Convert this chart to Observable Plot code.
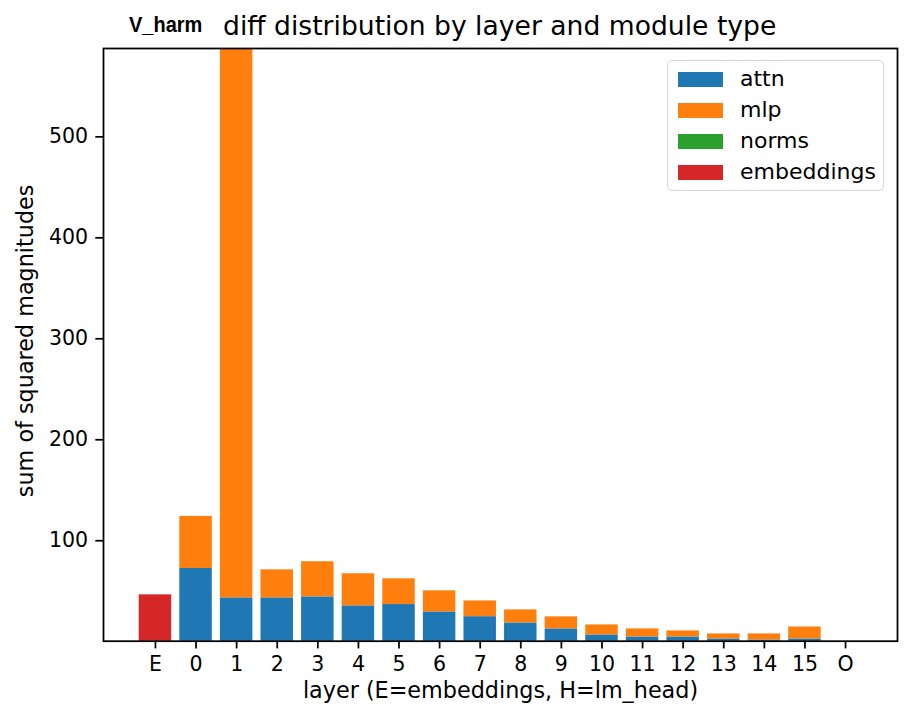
<!DOCTYPE html>
<html><head><meta charset="utf-8">
<script src="https://cdn.jsdelivr.net/npm/d3@7"></script>
<script src="https://cdn.jsdelivr.net/npm/@observablehq/plot@0.6"></script>
<style>
html,body{margin:0;padding:0;background:#fff;}
#wrap{position:relative;width:912px;height:722px;font-family:"DejaVu Sans";overflow:hidden;}
#title{position:relative;height:40px;}
#title .b{position:absolute;left:129px;top:15px;font-family:"Liberation Sans";font-weight:bold;font-size:21.5px;line-height:21.5px;transform:scaleX(0.93);transform-origin:left center;}
#title .t{position:absolute;left:223px;top:13px;font-family:"DejaVu Sans";font-size:26.6px;line-height:26.6px;white-space:nowrap;}
#legend{position:absolute;left:667px;top:60px;width:215px;height:129px;border:1.5px solid #d6d6d6;border-radius:5px;background:rgba(255,255,255,0.8);}
#legend .row{position:absolute;left:10px;height:22px;font-size:22px;line-height:22px;white-space:nowrap;}
#legend .sw{position:absolute;left:0;top:3.5px;width:45px;height:15px;}
#legend .lb{position:absolute;left:62px;top:0;}
</style></head><body>
<div id="wrap">
<div id="title"><span class="b">V_harm</span><span class="t">diff distribution by layer and module type</span></div>
<div id="chart"></div>
<div id="legend"></div>
</div>
<script>
const layers = ["E","0","1","2","3","4","5","6","7","8","9","10","11","12","13","14","15","O"];
const seriesNames = ["attn","mlp","norms","embeddings"];
const seriesColors = ["#1f77b4","#ff7f0e","#2ca02c","#d62728"];
const attn = [0, 72.5, 43.4, 43.4, 44.4, 35.5, 36.8, 29.5, 24.8, 18.6, 12.7, 6.7, 4.7, 4.7, 2.7, 1.7, 2.7, 0];
const mlp = [0, 51.6, 560, 27.8, 34.8, 31.8, 25.5, 20.9, 15.6, 12.9, 11.9, 9.9, 8.0, 6.0, 5.0, 6.0, 11.9, 0];
const norms = [0, 0, 0, 0, 0, 0, 0, 0, 0, 0, 0, 0, 0, 0, 0, 0, 0, 0];
const embeddings = [46.4, 0, 0, 0, 0, 0, 0, 0, 0, 0, 0, 0, 0, 0, 0, 0, 0, 0];
const yTicks = [100, 200, 300, 400, 500];
const titleX = "layer (E=embeddings, H=lm_head)";
const titleY = "sum of squared magnitudes";

const seriesValues = [attn, mlp, norms, embeddings];
const rows = [];
seriesNames.forEach((s, i) => layers.forEach((l, j) => rows.push({layer: l, series: s, value: seriesValues[i][j]})));

const sw = 1.76;
const chart = Plot.plot({
  width: 912,
  height: 682,
  marginTop: 8,
  marginBottom: 81.3,
  marginLeft: 103,
  marginRight: 15,
  style: {fontFamily: "DejaVu Sans", fontSize: "20.5px", color: "black", background: "white", overflow: "visible"},
  x: {domain: layers, paddingInner: 0.2, paddingOuter: 0.88, align: 0.5, round: false},
  y: {domain: [0.5, 587.5]},
  color: {domain: seriesNames, range: seriesColors},
  marks: [
    Plot.barY(rows.filter(d => d.value > 0), Plot.stackY({x: "layer", y: "value", fill: "series", clip: true})),
    Plot.frame({stroke: "black", strokeWidth: sw}),
    Plot.axisX({tickSize: 7.7, tickPadding: 7.7, strokeWidth: sw, label: null, fontSize: 20.5}),
    Plot.axisY({ticks: yTicks, tickSize: 7.7, tickPadding: 7.7, strokeWidth: sw, label: null, fontSize: 20.5}),
    Plot.text([titleX], {frameAnchor: "bottom", text: d => d, dy: 50, lineAnchor: "middle", fontSize: 22.3}),
    Plot.text([titleY], {frameAnchor: "left", text: d => d, dx: -78, dy: -4, rotate: -90, textAnchor: "middle", lineAnchor: "middle", fontSize: 22.3})
  ]
});
document.getElementById("chart").appendChild(chart);

const leg = document.getElementById("legend");
seriesNames.forEach((s, i) => {
  const r = document.createElement("div");
  r.className = "row";
  r.style.top = (7 + i * 31) + "px";
  r.innerHTML = `<div class="sw" style="background:${seriesColors[i]}"></div><div class="lb">${s}</div>`;
  leg.appendChild(r);
});
</script>
</body></html>
